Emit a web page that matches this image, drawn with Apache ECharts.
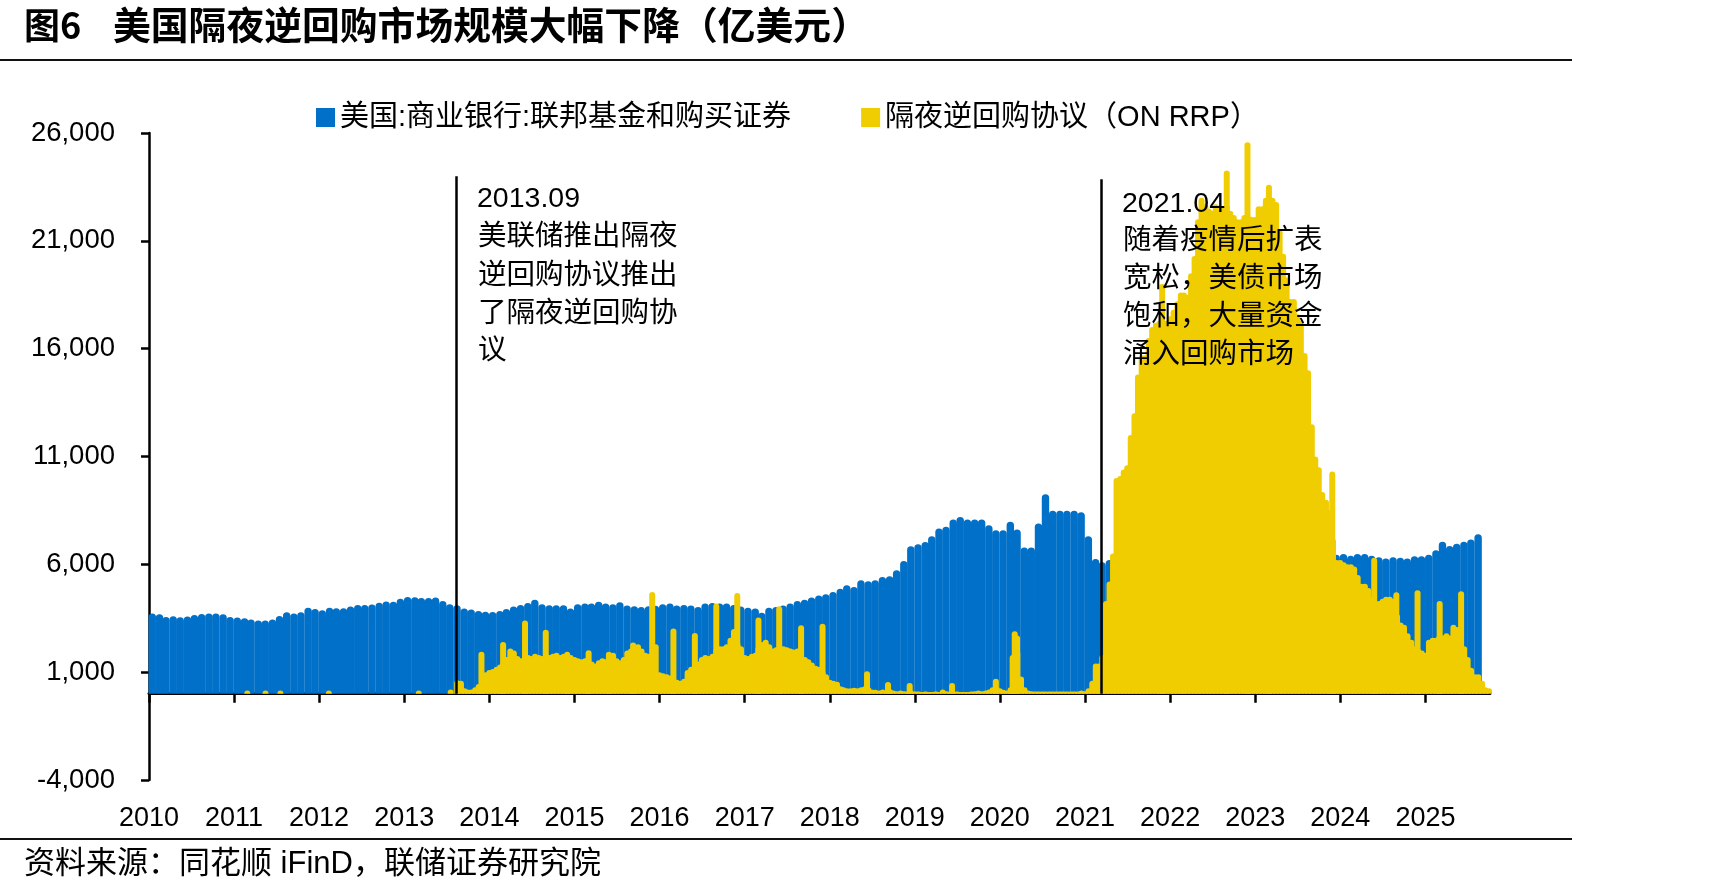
<!DOCTYPE html>
<html>
<head>
<meta charset="utf-8">
<script src="https://cdn.jsdelivr.net/npm/echarts@6/dist/echarts.min.js"></script>
<style>
  html, body { margin: 0; padding: 0; background: #fff; }
  #main { width: 1718px; height: 894px; }
</style>
</head>
<body>
<div id="main"></div>
<script>
const yearLabels = ['2010', '2011', '2012', '2013', '2014', '2015', '2016', '2017',
  '2018', '2019', '2020', '2021', '2022', '2023', '2024', '2025'];
const yTicks = [-4000, 1000, 6000, 11000, 16000, 21000, 26000];

// 美国:商业银行:联邦基金和购买证券, monthly from 2010-01
const fedFundsStartYear = 2010;
const fedFunds = [
  3720, 3690, 3560, 3590, 3550, 3580, 3650, 3700, 3720, 3720, 3690, 3560,
  3530, 3500, 3440, 3400, 3400, 3440, 3600, 3780, 3720, 3780, 3990, 3930,
  3870, 3990, 3960, 3960, 4050, 4110, 4110, 4140, 4220, 4280, 4270, 4400,
  4490, 4470, 4440, 4440, 4460, 4300, 4150, 4100, 3950, 3900, 3840, 3800,
  3790, 3840, 3930, 4050, 4120, 4210, 4360, 4150, 4100, 4100, 4100, 3950,
  4150, 4180, 4180, 4270, 4180, 4150, 4240, 4090, 4060, 4020, 4060, 4080,
  4150, 4180, 4090, 4120, 4090, 4020, 4180, 4210, 4180, 4180, 4120, 4050,
  3990, 3950, 3750, 3990, 4020, 4090, 4180, 4300, 4360, 4460, 4550, 4610,
  4720, 4870, 5030, 4950, 5260, 5210, 5260, 5410, 5450, 5720, 6160, 6840,
  6930, 7040, 7300, 7660, 7740, 8080, 8200, 8080, 8080, 8080, 7810, 7580,
  7580, 7970, 7610, 6780, 6780, 7890, 9250, 8480, 8480, 8480, 8480, 8420,
  7300, 6250, 6100, 6200, 5800, 5800, 5800, 5800, 5800, 5800, 5800, 5800,
  5800, 5800, 5800, 5800, 5800, 5800, 5800, 5800, 5800, 5800, 5800, 5800,
  5800, 5800, 5800, 5800, 5800, 5800, 5800, 5800, 5800, 5800, 5800, 6450,
  6480, 6400, 6480, 6480, 6400, 6330, 6270, 6330, 6300, 6270, 6380, 6380,
  6450, 6650, 7050, 6850, 6950, 7050, 7150, 7400
];

// 隔夜逆回购协议 (ON RRP), two points a month (1st and 16th) from 2013-08-16
const rrpStart = [2013, 8, 16];
const rrpHalfMonth = [
  620, 600, 250, 200, 200, 300, 450, 700, 1000,
  1100, 1150, 1250, 1350, 1500, 1700, 2100, 2000, 1750, 1650, 1700, 1800,
  1750, 1850, 1800, 1750, 1850, 1800, 1850, 1900, 1800, 1850, 1750, 1800,
  1700, 1650, 1600, 1650, 1700, 1500, 1400, 1550, 1650, 1600, 1700, 1900,
  1650, 1550, 1700, 2000, 2100, 2200, 2300, 2100, 1900, 1850, 1900, 2300,
  1000, 950, 900, 850, 700, 650, 600, 700, 1100, 1250, 1300, 1500,
  1700, 1800, 1750, 1850, 2100, 2200, 2200, 2300, 2600, 3000, 2400, 2200,
  1800, 1750, 1850, 1900, 2200, 2400, 2500, 2300, 2100, 2150, 2100, 2200,
  2150, 2100, 2050, 2100, 1800, 1700, 1600, 1450, 1300, 1250, 1100, 900,
  650, 600, 550, 350, 300, 250, 250, 280, 250, 300, 350, 300,
  200, 180, 150, 200, 150, 220, 150, 120, 150, 120, 100, 150,
  100, 100, 80, 100, 80, 80, 100, 80, 200, 120, 100, 80,
  100, 80, 80, 80, 100, 120, 150, 120, 150, 200, 300, 350,
  250, 180, 150, 300, 1500, 2000, 800, 300, 150, 120, 100, 100,
  100, 100, 100, 100, 100, 100, 100, 100, 100, 100, 100, 150,
  120, 250, 600, 1400, 1400, 1800, 4300, 5200, 6500, 10000, 10100, 10400,
  10600, 12000, 13000, 14800, 15700, 15700, 16500, 17000, 17200, 17300, 17300, 17300,
  17500, 17800, 18200, 18600, 18600, 18500, 19500, 20300, 22000, 23000, 22700, 22500,
  22400, 22700, 22500, 22600, 22700, 22400, 22200, 22000, 22000, 22200, 22200, 22100,
  22100, 22600, 22600, 23000, 23000, 23000, 22800, 21500, 20400, 19300, 18300, 18300,
  17600, 17300, 15800, 15000, 12500, 11000, 10500, 9350, 9000, 8500, 7200, 6200,
  6200, 6100, 6000, 6000, 5900, 5500, 5100, 5100, 4900, 4500, 4300, 4300,
  4400, 4500, 4500, 4400, 3700, 3300, 3200, 2800, 2500, 2200, 2100, 2000,
  1900, 2500, 2600, 2600, 2700, 2700, 2800, 2700, 3200, 3100, 2400, 2200,
  1700, 1200, 900, 900, 600, 300, 250
];

// single-day spikes (quarter ends etc.)
const rrpSpikeDates = [
  '2011-02-27', '2011-05-16', '2011-07-19', '2012-02-12', '2013-03-04', '2013-07-19',
  '2013-11-28', '2014-03-01', '2014-06-03', '2014-08-31', '2014-12-01', '2015-03-03',
  '2015-05-29', '2015-09-10', '2015-12-01', '2016-03-01', '2016-06-01', '2016-09-01',
  '2016-11-30', '2017-03-01', '2017-05-29', '2017-08-31', '2017-12-01', '2018-06-10',
  '2018-09-08', '2018-12-10', '2019-06-10', '2019-12-15', '2020-02-25', '2020-03-05',
  '2020-03-15', '2021-11-28', '2022-09-01', '2022-11-29', '2023-03-01', '2023-11-28',
  '2024-05-26', '2024-08-29', '2024-11-28', '2025-03-03', '2025-06-03'
];
const rrpSpikeValues = [
  150, 150, 150, 150, 150, 200,
  1950, 2400, 3400, 2970, 1950, 2020,
  1950, 2380, 4720, 3020, 2820, 4180,
  4670, 3530, 4055, 3175, 3250, 1040,
  540, 500, 500, 700, 1800, 2900,
  2700, 19000, 24260, 25570, 23600, 10300,
  6300, 4700, 4800, 4300, 4750
];

const markDates = ['2013-08-13', '2021-03-13'];
const markTops = [24000, 23850];

const ts = (y, m, d) => new Date(y, m - 1, d).getTime();
const tsStr = s => { const p = s.split('-').map(Number); return ts(p[0], p[1], p[2]); };

const blueData = fedFunds.map((v, i) => {
  const y = fedFundsStartYear + Math.floor(i / 12);
  return [ts(y, (i % 12) + 1, 15), v];
});

const rrpData = [];
let [ry, rm, rd] = rrpStart;
rrpHalfMonth.forEach(v => {
  rrpData.push([ts(ry, rm, rd), v]);
  if (rd === 16) { rd = 1; rm += 1; if (rm > 12) { rm = 1; ry += 1; } } else { rd = 16; }
});
rrpSpikeDates.forEach((d, i) => rrpData.push([tsStr(d), rrpSpikeValues[i]]));

const yearTicks = yearLabels.map(y => ts(+y, 1, 1));
const xMin = ts(2010, 1, 1);
const xMax = ts(2025, 10, 5);

const LATIN = "'Liberation Sans', Arial, 'Noto Sans CJK SC', sans-serif";
const CJK = "'Noto Sans CJK SC', sans-serif";

const chart = echarts.init(document.getElementById('main'), null, { renderer: 'canvas' });

const annoText = (x, y, text, family) => ({
  type: 'text', x: x, y: y, z: 100,
  style: { text: text, fill: '#000', fontSize: 28.5, fontFamily: family, verticalAlign: 'middle', align: 'left' }
});

const option = {
  animation: false,
  backgroundColor: '#fff',
  legend: {
    left: 316,
    top: 103,
    padding: 0,
    icon: 'rect',
    itemWidth: 19,
    itemHeight: 19,
    itemGap: 70,
    textStyle: { fontSize: 29, color: '#000', fontFamily: LATIN },
    data: ['美国:商业银行:联邦基金和购买证券', '隔夜逆回购协议（ON RRP）']
  },
  grid: { left: 149, right: 228, top: 133, bottom: 114, outerBoundsMode: 'none', containLabel: false },
  xAxis: [
    {
      type: 'value',
      min: xMin,
      max: xMax,
      axisLine: { onZero: true, lineStyle: { color: '#000', width: 3 } },
      axisTick: { show: true, customValues: yearTicks, length: 9, lineStyle: { color: '#000', width: 2.5 } },
      axisLabel: {
        customValues: yearTicks,
        margin: 25,
        fontSize: 27,
        color: '#000',
        fontFamily: LATIN,
        hideOverlap: false,
        formatter: v => String(new Date(v).getFullYear())
      },
      splitLine: { show: false }
    },
    { type: 'value', min: xMin, max: xMax, show: false, splitLine: { show: false } }
  ],
  yAxis: {
    type: 'value',
    min: -4000,
    max: 26000,
    axisLine: { show: true, lineStyle: { color: '#000', width: 2.5 } },
    axisTick: { show: true, customValues: yTicks, length: 8, lineStyle: { color: '#000', width: 2.5 } },
    axisLabel: {
      customValues: yTicks,
      margin: 34,
      fontSize: 27.5,
      color: '#000',
      fontFamily: LATIN,
      formatter: v => v.toLocaleString('en-US')
    },
    splitLine: { show: false }
  },
  series: [
    {
      name: '美国:商业银行:联邦基金和购买证券',
      type: 'bar',
      xAxisIndex: 0,
      barWidth: 7.4,
      clip: false,
      itemStyle: { color: '#0070C8', borderRadius: [3.7, 3.7, 0, 0] },
      data: blueData
    },
    {
      name: '隔夜逆回购协议（ON RRP）',
      type: 'bar',
      xAxisIndex: 1,
      barWidth: 6,
      clip: false,
      itemStyle: { color: '#F0CD00', borderRadius: [3, 3, 0, 0] },
      data: rrpData,
      markLine: {
        silent: true,
        symbol: ['none', 'none'],
        label: { show: false },
        lineStyle: { color: '#000', width: 2.5, type: 'solid' },
        data: markDates.map((d, i) => [{ coord: [tsStr(d), 0] }, { coord: [tsStr(d), markTops[i]] }])
      }
    }
  ],
  graphic: [
    { type: 'text', x: 24, y: 25, z: 100,
      style: { text: '图6', fill: '#000', fontSize: 36, fontWeight: 'bold', fontFamily: CJK, verticalAlign: 'middle' } },
    { type: 'text', x: 113, y: 25, z: 100,
      style: { text: '美国隔夜逆回购市场规模大幅下降（亿美元）', fill: '#000', fontSize: 37.8, fontWeight: 'bold', fontFamily: CJK, verticalAlign: 'middle' } },
    { type: 'line', z: 100, shape: { x1: 0, y1: 60, x2: 1572, y2: 60 }, style: { stroke: '#111', lineWidth: 2 } },
    { type: 'line', z: 100, shape: { x1: 0, y1: 839, x2: 1572, y2: 839 }, style: { stroke: '#111', lineWidth: 2 } },
    { type: 'text', x: 24, y: 864, z: 100,
      style: { text: '资料来源：同花顺 iFinD，联储证券研究院', fill: '#000', fontSize: 31, fontFamily: LATIN, verticalAlign: 'middle' } },
    annoText(477, 199, '2013.09', LATIN),
    annoText(478, 234, '美联储推出隔夜', CJK),
    annoText(478, 273, '逆回购协议推出', CJK),
    annoText(478, 311, '了隔夜逆回购协', CJK),
    annoText(478, 348, '议', CJK),
    annoText(1122, 204, '2021.04', LATIN),
    annoText(1123, 238, '随着疫情后扩表', CJK),
    annoText(1123, 276, '宽松，美债市场', CJK),
    annoText(1123, 314, '饱和，大量资金', CJK),
    annoText(1123, 352, '涌入回购市场', CJK)
  ]
};

chart.setOption(option);
</script>
</body>
</html>
